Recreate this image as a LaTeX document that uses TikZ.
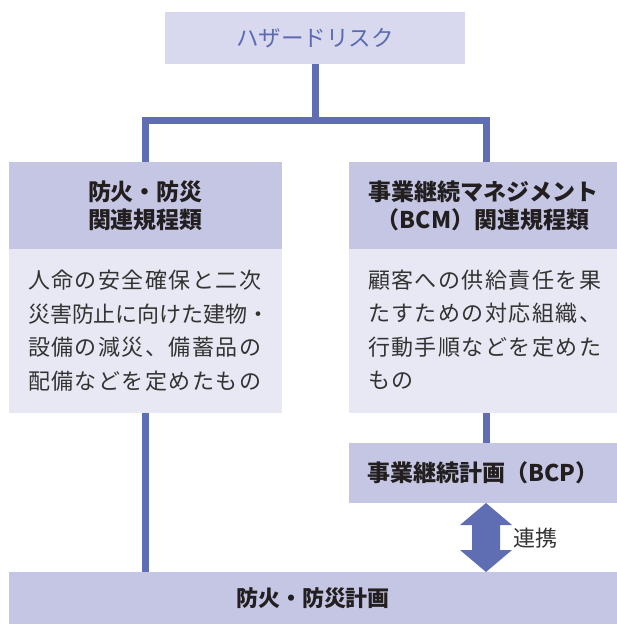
\documentclass[tikz,border=0pt]{standalone}
\usepackage{fontspec}
\newfontfamily\jp{Noto Sans CJK JP}
\newfontfamily\jpls{Noto Sans CJK JP}[LetterSpace=6.8]
\definecolor{conncol}{HTML}{5F6DB3}
\definecolor{headfill}{HTML}{C5C6E4}
\definecolor{bodyfill}{HTML}{E8E8F4}
\definecolor{topfill}{HTML}{D8D8EE}
\definecolor{toptext}{HTML}{5C6BB0}
\definecolor{textdark}{HTML}{231F20}
\definecolor{bodytext}{HTML}{333333}
\tikzset{
  topbox/.style={fill=topfill, inner sep=0, outer sep=0, text=toptext, font=\jp\fontsize{22.5}{26}\selectfont},
  hd/.style={fill=headfill, inner sep=0, outer sep=0, text=textdark, align=center, font=\jp\bfseries\fontsize{23}{28}\selectfont},
  bd/.style={fill=bodyfill, inner sep=0, outer sep=0},
  bodytxt/.style={inner sep=0, outer sep=0, text=bodytext, align=left, anchor=north west, font=\jpls\fontsize{22}{33.5}\selectfont},
  conn/.style={draw=conncol, line width=7pt, line join=miter},
}
\begin{document}
\begin{tikzpicture}[x=1pt,y=-1pt]
\useasboundingbox (0,0) rectangle (617,625);
% boxes
\node[topbox, minimum width=300, minimum height=52] (top) at (315,38) {ハザードリスク};
\node[hd, minimum width=273, minimum height=87] (lhead) at (145.5,205.5) {防火・防災\\関連規程類};
\node[bd, minimum width=273, minimum height=164] (lbody) at (145.5,331) {};
\node[hd, minimum width=268, minimum height=87] (rhead) at (483,205.5) {事業継続マネジメント\\（BCM）関連規程類};
\node[bd, minimum width=268, minimum height=164] (rbody) at (483,331) {};
\node[hd, minimum width=268, minimum height=60] (bcp) at (483,473) {事業継続計画（BCP）};
\node[hd, font=\jp\bfseries\fontsize{22}{28}\selectfont, minimum width=608, minimum height=52] (bottom) at (313,598) {防火・防災計画};
% body texts
\node[bodytxt] (ltext) at (28,270) {人命の安全確保と二次\\{\jp 災害防止に向けた建物・}\\設備の減災、備蓄品の\\配備などを定めたもの};
\node[bodytxt] (rtext) at (368,270) {顧客への供給責任を果\\たすための対応組織、\\行動手順などを定めた\\もの};
% connectors
\coordinate (hbar) at (316,120);
\draw[conn] (top.south) -- (top.south |- hbar);
\draw[conn] (lhead.north) |- (hbar) -| ([xshift=3pt]rhead.north);
\draw[conn] (lbody.south) -- (lbody.south |- bottom.north);
\draw[conn] ([xshift=3pt]rbody.south) -- ([xshift=3pt]bcp.north);
% double arrow
\coordinate (atop) at ([xshift=3pt]bcp.south);
\coordinate (abot) at (atop |- bottom.north);
\fill[conncol] (atop) -- ++(26,22) -- ++(-12,0) -- ++(0,25) -- ++(12,0) -- (abot)
  -- ++(-26,-22) -- ++(12,0) -- ++(0,-25) -- ++(-12,0) -- cycle;
\node[inner sep=0, anchor=west, text=bodytext, font=\jp\fontsize{22}{26}\selectfont] (link) at (513,538) {連携};
\end{tikzpicture}
\end{document}
